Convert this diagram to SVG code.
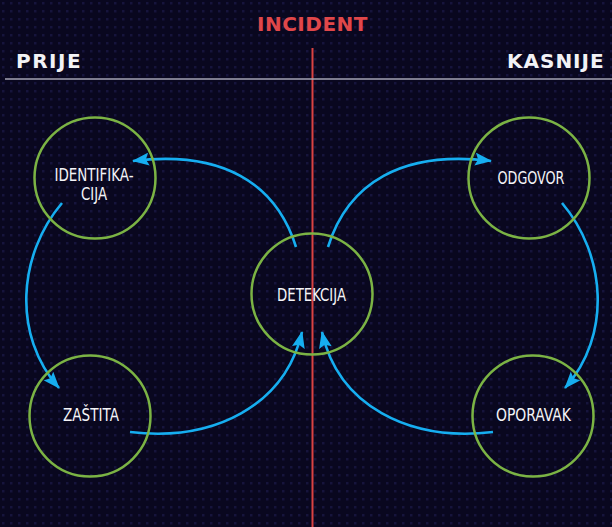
<svg xmlns="http://www.w3.org/2000/svg" width="612" height="527" viewBox="0 0 612 527">
  <defs>
    <pattern id="dots" x="2" y="2" width="8" height="8" patternUnits="userSpaceOnUse">
      <rect x="0" y="0" width="2.5" height="2.5" fill="#16143c"/>
    </pattern>
    <marker id="head" viewBox="0 0 17 13" markerWidth="17" markerHeight="13" refX="16" refY="6.5" orient="auto" markerUnits="userSpaceOnUse">
      <path d="M0,0 L17,6.5 L0,13 L3,6.5 Z" fill="#16aef0"/>
    </marker>
    <style>
      .phase { font-family: "DejaVu Sans", "Liberation Sans", sans-serif; font-weight: bold; font-size: 20px; fill: #f2f2f6; }
      .node circle { fill: none; stroke: #7bb344; stroke-width: 2.5; }
      .node text { font-family: "DejaVu Sans Condensed", "Liberation Sans Narrow", "DejaVu Sans", sans-serif; font-stretch: condensed; font-size: 17px; fill: #f4f4f8; text-anchor: middle; }
      .flow { fill: none; stroke: #16aef0; stroke-width: 2.6; marker-end: url(#head); }
    </style>
  </defs>

  <!-- backdrop -->
  <rect width="612" height="527" fill="#09071f"/>
  <rect width="612" height="527" fill="url(#dots)"/>

  <!-- timeline -->
  <line x1="312.5" y1="48" x2="312.5" y2="527" stroke="#d94343" stroke-width="2"/>
  <line x1="5" y1="79" x2="612" y2="79" stroke="#a4a4b4" stroke-width="1.6"/>
  <text x="257" y="31" class="phase" style="fill:#e0474a" letter-spacing="0.5">INCIDENT</text>
  <text x="16" y="68" class="phase" letter-spacing="1.5">PRIJE</text>
  <text x="507" y="68" class="phase" letter-spacing="1">KASNIJE</text>

  <!-- connectors -->
  <g id="connectors">
    <path class="flow" d="M296,247 C276,183 222,150 133,161"/>
    <path class="flow" d="M328,247 C348,183 402,150 491,161"/>
    <path class="flow" d="M62,203 C18,255 12,335 59,388"/>
    <path class="flow" d="M562,203 C606,255 612,335 565,388"/>
    <path class="flow" d="M130,432 C215,442 285,405 302,332"/>
    <path class="flow" d="M493,432 C408,442 338,405 322,332"/>
  </g>

  <!-- nodes -->
  <g id="identifikacija" class="node">
    <circle cx="95" cy="178" r="60.5"/>
    <text x="94" y="181" textLength="79" lengthAdjust="spacingAndGlyphs">IDENTIFIKA-</text>
    <text x="94" y="200" textLength="26" lengthAdjust="spacingAndGlyphs">CIJA</text>
  </g>
  <g id="odgovor" class="node">
    <circle cx="529" cy="178" r="60.5"/>
    <text x="531" y="184" textLength="67" lengthAdjust="spacingAndGlyphs">ODGOVOR</text>
  </g>
  <g id="detekcija" class="node">
    <circle cx="312" cy="294" r="60.5"/>
    <text x="311.5" y="301" textLength="69" lengthAdjust="spacingAndGlyphs">DETEKCIJA</text>
  </g>
  <g id="zastita" class="node">
    <circle cx="90" cy="416" r="60.5"/>
    <text x="91" y="421" textLength="56" lengthAdjust="spacingAndGlyphs">ZAŠTITA</text>
  </g>
  <g id="oporavak" class="node">
    <circle cx="533" cy="416" r="60.5"/>
    <text x="533.5" y="421" textLength="75" lengthAdjust="spacingAndGlyphs">OPORAVAK</text>
  </g>
</svg>
